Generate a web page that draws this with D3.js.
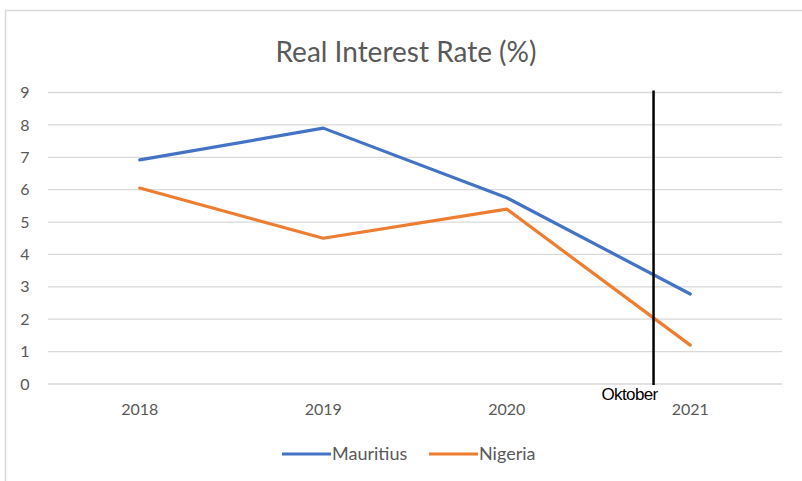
<!DOCTYPE html>
<html>
<head>
<meta charset="utf-8">
<script src="https://cdn.jsdelivr.net/npm/d3@7"></script>
<style>
  html, body { margin: 0; padding: 0; background: #fff; }
  svg { display: block; }
</style>
</head>
<body>
<svg id="chart" width="802" height="481"></svg>
<script>
// Chart data
const years = ["2018", "2019", "2020", "2021"];
const mauritius = [6.92, 7.9, 5.75, 2.78];
const nigeria = [6.05, 4.5, 5.4, 1.2];
const yTicks = [0, 1, 2, 3, 4, 5, 6, 7, 8, 9];
const seriesNames = ["Mauritius", "Nigeria"];
const seriesColors = ["#4472C4", "#ED7D31"];
// Marker: October of the 2020→2021 interval
const markerFrom = "2020";
const markerTo = "2021";
const markerMonth = 10;
const markerLabel = "Oktober";

const svg = d3.select("#chart");
const font = "Lato, 'Open Sans', sans-serif";

// Outer frame
svg.append("rect")
  .attr("x", 5.5).attr("y", 10.5)
  .attr("width", 805).attr("height", 480)
  .attr("fill", "#fff").attr("stroke", "#D9D9D9").attr("stroke-width", 1.5);

const plot = { left: 48, right: 782, top: 92.5, bottom: 384 };

const x = d3.scaleBand().domain(years).range([plot.left, plot.right]);
const y = d3.scaleLinear().domain([0, 9]).range([plot.bottom, plot.top]);
const cx = d => x(d) + x.bandwidth() / 2;

// Title
svg.append("text")
  .attr("x", 406).attr("y", 62)
  .attr("text-anchor", "middle")
  .attr("font-family", font).attr("font-size", 28)
  .attr("fill", "#595959")
  .text("Real Interest Rate (%)");

// Horizontal gridlines
svg.append("g")
  .selectAll("line").data(yTicks).join("line")
  .attr("x1", plot.left).attr("x2", plot.right)
  .attr("y1", d => y(d)).attr("y2", d => y(d))
  .attr("stroke", "#D9D9D9").attr("stroke-width", 1.3);

// Y axis labels
const yAxis = d3.axisLeft(y).tickValues(yTicks).tickSize(0).tickPadding(0);
const gy = svg.append("g").attr("transform", `translate(${plot.left - 23},0)`).call(yAxis);
gy.select(".domain").remove();
gy.selectAll("text")
  .attr("font-family", font).attr("font-size", 16)
  .attr("fill", "#595959").attr("text-anchor", "middle");

// X axis labels
const xAxis = d3.axisBottom(x).tickSize(0).tickPadding(0);
const gx = svg.append("g").attr("transform", `translate(0,${plot.bottom + 19.5})`).call(xAxis);
gx.select(".domain").remove();
gx.selectAll("text")
  .attr("font-family", font).attr("font-size", 16)
  .attr("fill", "#595959");

// Series lines
const line = d3.line().x((d, i) => cx(years[i])).y(d => y(d));
[mauritius, nigeria].forEach((vals, i) => {
  svg.append("path")
    .datum(vals)
    .attr("d", line)
    .attr("fill", "none")
    .attr("stroke", seriesColors[i])
    .attr("stroke-width", 3.2)
    .attr("stroke-linejoin", "round")
    .attr("stroke-linecap", "round");
});

// Vertical marker line
const mx = cx(markerFrom) + (cx(markerTo) - cx(markerFrom)) * (markerMonth - 1 + 0.6) / 12;
svg.append("line")
  .attr("x1", mx).attr("x2", mx)
  .attr("y1", y(9) - 2).attr("y2", y(0) + 1)
  .attr("stroke", "#000").attr("stroke-width", 2.5);
svg.append("text")
  .attr("x", mx - 24).attr("y", y(0) + 16)
  .attr("text-anchor", "middle")
  .attr("font-family", "'Liberation Sans', Arial, sans-serif").attr("font-size", 17)
  .attr("letter-spacing", -0.6)
  .attr("fill", "#000")
  .text(markerLabel);

// Legend
const legendItems = [
  { x: 282, name: seriesNames[0], color: seriesColors[0] },
  { x: 429, name: seriesNames[1], color: seriesColors[1] }
];
const lg = svg.append("g").selectAll("g").data(legendItems).join("g")
  .attr("transform", d => `translate(${d.x},454)`);
lg.append("line")
  .attr("x1", 0).attr("x2", 49)
  .attr("stroke", d => d.color).attr("stroke-width", 3.2);
lg.append("text")
  .attr("x", 50).attr("y", 6)
  .attr("font-family", font).attr("font-size", 18)
  .attr("fill", "#595959")
  .text(d => d.name);
</script>
</body>
</html>
